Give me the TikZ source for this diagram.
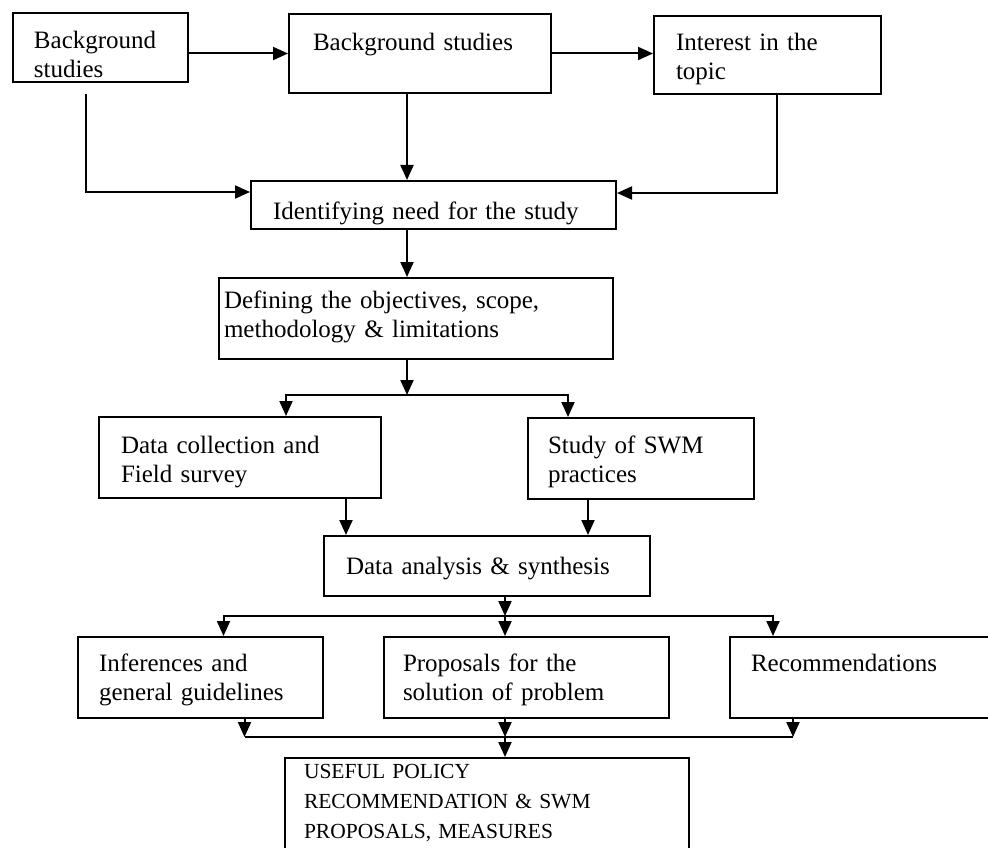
\documentclass[tikz,border=0pt]{standalone}
\usepackage{fontspec}
\setmainfont{Liberation Serif}
\usetikzlibrary{arrows.meta,positioning}

\begin{document}
\begin{tikzpicture}[x=1pt, y=-1pt, >={Triangle[length=15pt,width=13pt]},
    block/.style={rectangle, draw, line width=2pt, anchor=north west, align=left, inner xsep=21pt, inner ysep=0pt, font=\fontsize{25}{29}\selectfont},
    line/.style={draw, ->, line width=2pt}]

    \useasboundingbox (0,0) rectangle (988,848);

    \node [block, text width=133pt, text height=36pt, text depth=33pt] (bgleft) at (12,12) {Background\\studies};
    \node [block, inner xsep=24pt, text width=214pt, text height=37pt, text depth=42pt] (bgmid) at (288,13) {Background studies};
    \node [block, inner xsep=22pt, text width=183pt, text height=35pt, text depth=43pt] (interest) at (653,15) {Interest in the\\topic};
    \node [block, inner xsep=22pt, text width=321pt, text height=38pt, text depth=10pt] (need) at (250,180) {Identifying need for the study};
    \node [block, inner xsep=5pt, text width=384pt, text height=30pt, text depth=51pt] (objectives) at (218,277) {Defining the objectives, scope,\\methodology \& limitations};
    \node [block, inner xsep=22pt, text width=238pt, text height=36pt, text depth=45pt] (survey) at (98,416) {Data collection and\\Field survey};
    \node [block, inner xsep=20pt, text width=186pt, text height=35pt, text depth=46pt] (practices) at (527,417) {Study of SWM\\practices};
    \node [block, inner xsep=22pt, text width=282pt, text height=38pt, text depth=22pt] (analysis) at (323,535) {Data analysis \& synthesis};
    \node [block, text width=203pt, text height=34pt, text depth=47pt] (inferences) at (77,636) {Inferences and\\general guidelines};
    \node [block, inner xsep=19pt, text width=247pt, text height=34pt, text depth=47pt] (proposals) at (383,636) {Proposals for the\\solution of problem};
    \node [block, text width=228pt, text height=34pt, text depth=47pt] (recommend) at (729,636) {Recommendations};
    \node [block, inner xsep=19pt, text width=366pt, text height=20pt, text depth=80pt, font=\fontsize{21.5}{30}\selectfont] (policy) at (284,757) {USEFUL POLICY\\RECOMMENDATION \& SWM\\PROPOSALS, MEASURES};

    \coordinate (mainx) at (407,0);
    \coordinate (fork1) at (407,395);
    \coordinate (fork2) at (505,616);
    \coordinate (merge) at (505,737);

    \path [line] (bgleft.east |- bgmid.west) -- (bgmid.west);
    \path [line] (bgmid.east) -- (bgmid.east -| interest.west);
    \path [line, shorten <=11pt] ([xshift=-15pt]bgleft.south) |- ([yshift=13pt]need.west);
    \path [line] (bgmid.south -| mainx) -- (need.north -| mainx);
    \path [line] ([xshift=9pt]interest.south) |- ([yshift=12pt]need.east);
    \path [line] (need.south -| mainx) -- (objectives.north -| mainx);

    \path [line] (objectives.south -| mainx) -- (fork1);
    \path [line] (fork1) -| ([xshift=46pt]survey.north);
    \path [line] (fork1) -| ([xshift=-73pt]practices.north);
    \path [line] ([xshift=106pt]survey.south) -- ([xshift=106pt]survey.south |- analysis.north);
    \path [line] ([xshift=-53pt]practices.south) -- ([xshift=-53pt]practices.south |- analysis.north);

    \path [line] (analysis.south -| fork2) -- (fork2);
    \path [line] (fork2) -| ([xshift=23pt]inferences.north);
    \path [line] (fork2) -- (proposals.north -| fork2);
    \path [line] (fork2) -| ([xshift=-92pt]recommend.north);

    \path [line] ([xshift=44pt]inferences.south) -- ([xshift=44pt]inferences.south |- merge);
    \path [line] (proposals.south -| merge) -- (merge);
    \path [line] ([xshift=-72pt]recommend.south) -- ([xshift=-72pt]recommend.south |- merge);
    \draw [line width=2pt] ([xshift=44pt]inferences.south |- merge) -- ([xshift=-72pt]recommend.south |- merge);
    \path [line] (merge) -- (policy.north -| merge);

\end{tikzpicture}
\end{document}
